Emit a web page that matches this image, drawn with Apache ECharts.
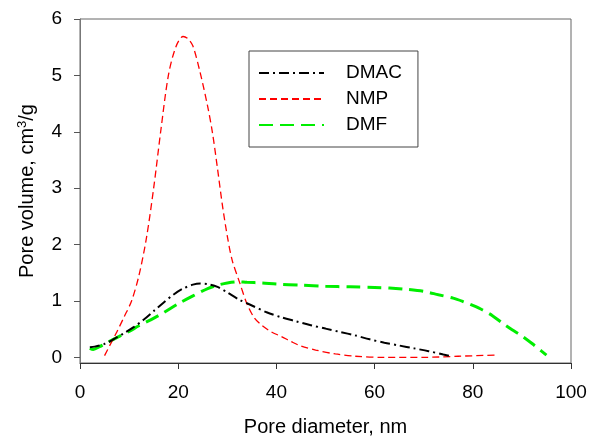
<!DOCTYPE html>
<html>
<head>
<meta charset="utf-8">
<script src="https://cdn.jsdelivr.net/npm/echarts@6/dist/echarts.min.js"></script>
<style>
html,body{margin:0;padding:0;background:#fff;}
#chart{width:590px;height:437px;}
</style>
</head>
<body>
<div id="chart"></div>
<script>
// Data
var seriesNames = ['DMAC', 'NMP', 'DMF'];
var xTicks = [0, 20, 40, 60, 80, 100];
var yTicks = [0, 1, 2, 3, 4, 5, 6];

var dmacX = [2, 3, 5, 7, 9, 11, 13, 15, 17, 19, 21, 23, 24.5, 26, 28, 30, 32.5, 35, 38, 41, 44, 47, 50, 53, 56, 59, 62, 65, 68, 71, 74, 75.5];
var dmacY = [0.18, 0.19, 0.24, 0.33, 0.43, 0.54, 0.67, 0.82, 0.97, 1.11, 1.22, 1.29, 1.31, 1.30, 1.25, 1.15, 1.02, 0.92, 0.80, 0.71, 0.64, 0.57, 0.51, 0.45, 0.39, 0.32, 0.26, 0.21, 0.16, 0.11, 0.05, 0.02];

var nmpX = [5, 6, 7.5, 9, 10.5, 12, 13.5, 15, 16.5, 18, 19.5, 21, 22, 23, 24.5, 26, 27, 28, 29, 30, 31, 32.5, 34, 35.5, 37, 39, 41, 43, 45, 48, 52, 56, 62, 70, 77, 84.5];
var nmpY = [0.03, 0.2, 0.45, 0.72, 1.0, 1.45, 2.1, 3.0, 4.05, 5.0, 5.5, 5.69, 5.65, 5.52, 5.04, 4.45, 3.97, 3.35, 2.7, 2.15, 1.72, 1.33, 0.95, 0.7, 0.57, 0.45, 0.37, 0.28, 0.2, 0.13, 0.06, 0.02, 0.0, 0.0, 0.02, 0.04];

var dmfX = [2, 2.7, 4, 5.5, 7.5, 10, 12, 14.5, 17, 20, 23, 26, 28, 30, 32, 34, 37, 40, 45, 50, 55, 60, 63, 66, 70, 73, 76, 78, 80, 82, 84, 86, 88, 90, 92, 94, 95];
var dmfY = [0.16, 0.14, 0.19, 0.26, 0.35, 0.46, 0.56, 0.67, 0.79, 0.95, 1.09, 1.22, 1.28, 1.32, 1.34, 1.33, 1.32, 1.30, 1.28, 1.26, 1.25, 1.24, 1.23, 1.21, 1.17, 1.11, 1.05, 0.99, 0.92, 0.84, 0.74, 0.61, 0.49, 0.38, 0.25, 0.11, 0.04];

function zip(xs, ys) { return xs.map(function (x, i) { return [x, ys[i]]; }); }

var chart = echarts.init(document.getElementById('chart'), null, {renderer: 'canvas'});
var font = 'Liberation Sans, Arial, sans-serif';
chart.setOption({
  animation: false,
  backgroundColor: '#fff',
  grid: {left: 80, right: 19, top: 19, bottom: 74, show: true, borderColor: '#666', borderWidth: 1,
    containLabel: false, outerBoundsMode: 'none'},
  legend: {
    orient: 'vertical', left: 249, top: 51,
    data: seriesNames,
    itemWidth: 65, itemHeight: 20, itemGap: 6,
    padding: [12, 16, 12, 9],
    borderColor: '#444', borderWidth: 1,
    itemStyle: {opacity: 0},
    textStyle: {fontFamily: font, fontSize: 19, color: '#000', padding: [0, 0, 0, 17], lineHeight: 20}
  },
  xAxis: {
    type: 'value', min: 0, max: 100, interval: 20,
    name: 'Pore diameter, nm', nameLocation: 'middle', nameGap: 54,
    nameTextStyle: {fontFamily: font, fontSize: 20, color: '#000'},
    axisLine: {show: true, onZero: false, lineStyle: {color: '#333', width: 1}},
    axisTick: {show: true, inside: false, length: 6, lineStyle: {color: '#333'}},
    axisLabel: {fontFamily: font, fontSize: 19, color: '#000', margin: 20,
      customValues: xTicks},
    splitLine: {show: false}
  },
  yAxis: {
    type: 'value', min: -0.1, max: 6,
    name: 'Pore volume, cm{sup|3}/g', nameLocation: 'middle', nameGap: 41, nameRotate: 90,
    nameTextStyle: {fontFamily: font, fontSize: 20, color: '#000',
      rich: {sup: {fontFamily: font, fontSize: 13, color: '#000', verticalAlign: 'bottom', padding: [0, 0, 10, 0]}}},
    axisLine: {show: true, onZero: false, lineStyle: {color: '#777', width: 1}},
    axisTick: {show: true, inside: false, length: 6, lineStyle: {color: '#555'}, customValues: yTicks},
    axisLabel: {fontFamily: font, fontSize: 19, color: '#000', margin: 18, customValues: yTicks},
    splitLine: {show: false}
  },
  series: [
    {name: 'DMAC', type: 'line', data: zip(dmacX, dmacY), smooth: 0.3, symbol: 'none',
     lineStyle: {color: '#000', width: 2, type: [10, 4, 2, 4]}, itemStyle: {color: '#000'}, z: 3},
    {name: 'NMP', type: 'line', data: zip(nmpX, nmpY), smooth: 0.3, symbol: 'none',
     lineStyle: {color: '#ff0000', width: 1.3, type: [7, 4]}, itemStyle: {color: '#ff0000'}, z: 2},
    {name: 'DMF', type: 'line', data: zip(dmfX, dmfY), smooth: 0.3, symbol: 'none',
     lineStyle: {color: '#00ee00', width: 3, type: [14, 7]}, itemStyle: {color: '#00ee00'}, z: 1}
  ]
});
</script>
</body>
</html>
